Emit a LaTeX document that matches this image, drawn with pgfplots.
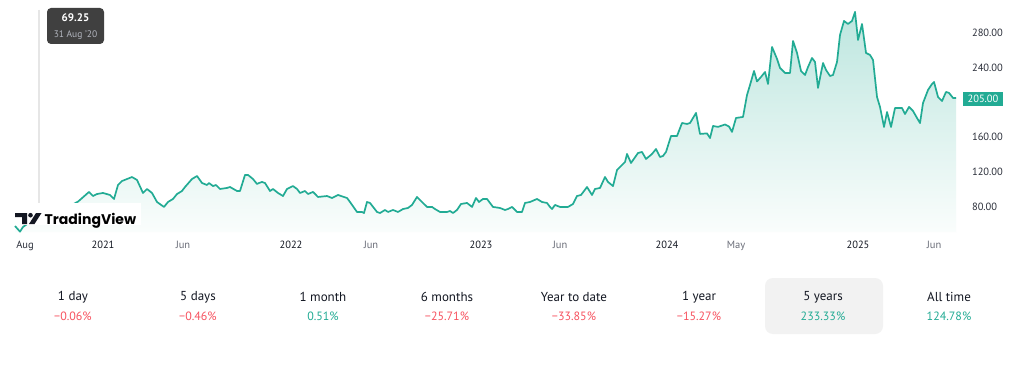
\documentclass[border=0pt]{standalone}
\usepackage{fontspec}
\setmainfont{PT Sans}
\newfontfamily\logofont{Poppins}
\usepackage{pgfplots}
\usepackage{pgfplotstable}
\pgfplotsset{compat=1.18}
\definecolor{tvgreen}{HTML}{22AB94}
\definecolor{tvred}{HTML}{F7525F}
\definecolor{tvtext}{HTML}{131722}
\definecolor{tvtick}{HTML}{2A2E39}
\definecolor{tvmuted}{HTML}{6A6D78}
\definecolor{tipbg}{HTML}{404040}
\definecolor{tipdate}{HTML}{B2B5BE}
\definecolor{crossgray}{HTML}{E6E6E6}
\definecolor{hlbox}{HTML}{F2F2F2}
\definecolor{filltop}{RGB}{189,230,223}
\definecolor{fillbot}{RGB}{250,253,252}

\pgfplotstableread{
x v
15 57.7
20 51.2
23 56.6
32 64.0
38 69.3
50 72.0
65 78.0
78 85.8
89 97.0
93 92.3
97 94.6
103 95.8
110 93.5
114 88.9
118 105.0
122 109.6
127 111.9
132 114.2
137 110.8
143 95.8
147 100.4
152 95.8
157 85.4
164 79.7
168 85.4
173 88.9
177 94.6
182 98.1
185 102.7
192 111.9
197 115.4
202 107.3
207 105.0
209 107.3
213 103.8
216 105.0
220 100.4
227 101.6
230 102.7
237 98.1
240 98.1
245 116.6
248 116.6
253 111.9
257 106.2
259 107.3
262 108.5
265 107.3
270 98.1
273 100.4
278 95.8
283 92.3
287 100.4
293 103.8
297 100.4
300 95.8
305 98.1
308 94.6
313 97.0
318 91.2
327 92.3
332 90.0
338 93.5
347 90.0
350 85.4
357 73.9
362 73.9
364 72.7
367 85.4
370 84.3
377 73.9
380 72.7
385 76.2
388 73.9
393 76.2
398 73.9
403 77.3
408 78.5
412 82.0
417 91.2
422 85.4
427 79.7
432 79.7
435 77.3
440 73.9
447 73.9
450 75.0
453 72.7
457 76.2
461 83.1
467 84.3
472 79.7
476 90.0
479 85.4
483 88.9
487 88.9
493 79.7
500 78.5
505 76.2
508 77.3
512 79.7
517 73.9
522 73.9
525 84.3
530 85.4
537 88.9
542 85.4
547 84.3
550 79.7
552 77.3
555 82.0
560 79.7
568 79.7
573 83.1
577 92.3
581 93.5
587 102.7
592 93.5
595 100.4
600 101.6
605 114.2
608 108.5
613 103.8
617 122.3
621 126.9
625 131.6
627 140.8
631 130.4
638 141.9
642 143.1
646 135.0
652 140.8
656 146.5
660 137.3
663 138.5
666 143.1
671 161.5
677 161.5
682 176.5
687 175.4
690 176.5
696 188.1
700 163.9
707 164.5
710 159.2
713 173.1
718 172.0
725 174.8
729 172.5
732 166.2
736 182.3
743 183.5
747 208.8
750 220.3
754 236.5
757 224.4
761 229.6
765 235.3
768 221.5
772 264.2
777 250.4
780 240.0
785 234.2
790 234.2
793 271.1
797 257.3
801 236.5
805 231.9
808 241.1
812 251.5
815 246.9
818 217.0
823 245.7
826 237.7
830 230.7
833 231.9
837 246.9
840 278.1
844 294.2
848 290.7
852 294.2
855 304.6
858 272.3
862 290.7
866 257.3
870 255.0
873 249.2
877 206.5
880 195.0
884 171.9
887 189.2
891 171.9
895 193.8
902 193.8
905 186.9
909 195.0
913 190.4
917 182.3
920 176.5
923 199.6
928 214.6
932 221.5
934 223.8
938 206.5
942 201.9
946 212.3
949 211.2
953 205.4
956 205.4
}\pricedata

\newcommand{\axfont}{\fontsize{10.5bp}{12bp}\selectfont}
\newcommand{\lblfont}{\fontsize{13bp}{15bp}\selectfont}
\newcommand{\valfont}{\fontsize{12bp}{14bp}\selectfont}

\begin{document}
\begin{tikzpicture}[x=1bp,y=1bp]
\path[use as bounding box, fill=white] (0,0) rectangle (1024,369);
\draw[crossgray, line width=1.2bp] (39,359) -- (39,137);
\begin{axis}[
  at={(0bp,137bp)}, anchor=south west,
  width=958bp, height=227bp, scale only axis,
  xmin=0, xmax=958, ymin=50.8, ymax=312.6,
  axis line style={draw=none}, major tick length=0pt,
  ytick={80,120,160,240,280},
  yticklabel pos=right,
  yticklabel style={anchor=west, xshift=10.5bp, font=\axfont, text=tvtick,
    /pgf/number format/.cd, fixed, fixed zerofill, precision=2, assume math mode=true},
  xtick={25,103,183,291,371,481,560,667,736,858,934},
  xticklabels={{\color{tvtick}Aug},{2021},{\color{tvmuted}Jun},{2022},{\color{tvmuted}Jun},{2023},{\color{tvmuted}Jun},{2024},{\color{tvmuted}May},{2025},{\color{tvmuted}Jun}},
  xticklabel style={anchor=base, yshift=-16.75bp, font=\axfont, text=tvtext},
  clip=true,
]
\addplot[draw=none, top color=filltop, bottom color=fillbot] table[x=x,y=v]{\pricedata} \closedcycle;
\addplot[tvgreen, line width=1.7bp, line join=round, mark=none] table[x=x,y=v]{\pricedata};
\end{axis}
% logo
\fill[white] (12,144) rectangle (141,166.5);
\fill[tvtext] (15,156) -- (27,156) -- (27,145) -- (22,145) -- (22,152) -- (15,152) -- cycle;
\fill[tvtext] (30.5,153.8) circle (2.3);
\fill[tvtext] (36,156) -- (41.5,156) -- (34.5,145) -- (29,145) -- cycle;
\node[anchor=base west, inner sep=0] at (44.5,145) {\logofont\fontsize{14bp}{16bp}\selectfont\bfseries TradingView};
% tooltip
\fill[tipbg, rounded corners=4bp] (47,361) rectangle (104,325);
\node[text=white, font=\fontsize{11bp}{12bp}\selectfont\bfseries] at (75.5,351) {69.25};
\node[text=tipdate, font=\fontsize{9.5bp}{11bp}\selectfont] at (75.5,334) {31 Aug '20};
% price label
\fill[tvgreen] (963,277) rectangle (1003,263);
\node[text=white, font=\axfont] at (983,270) {205.00};
% stats
\fill[hlbox, rounded corners=8bp] (765,91) rectangle (883,35);
\foreach \cx/\lab/\val/\col in {73/1 day/−0.06\%/tvred, 198/5 days/−0.46\%/tvred, 323/1 month/0.51\%/tvgreen, 447/6 months/−25.71\%/tvred, 574/Year to date/−33.85\%/tvred, 699/1 year/−15.27\%/tvred, 823/5 years/233.33\%/tvgreen, 949/All time/124.78\%/tvgreen}{
  \node[text=tvtext, font=\lblfont] at (\cx,72) {\lab};
  \node[text=\col, font=\valfont] at (\cx,53) {\val};
}
\end{tikzpicture}
\end{document}
